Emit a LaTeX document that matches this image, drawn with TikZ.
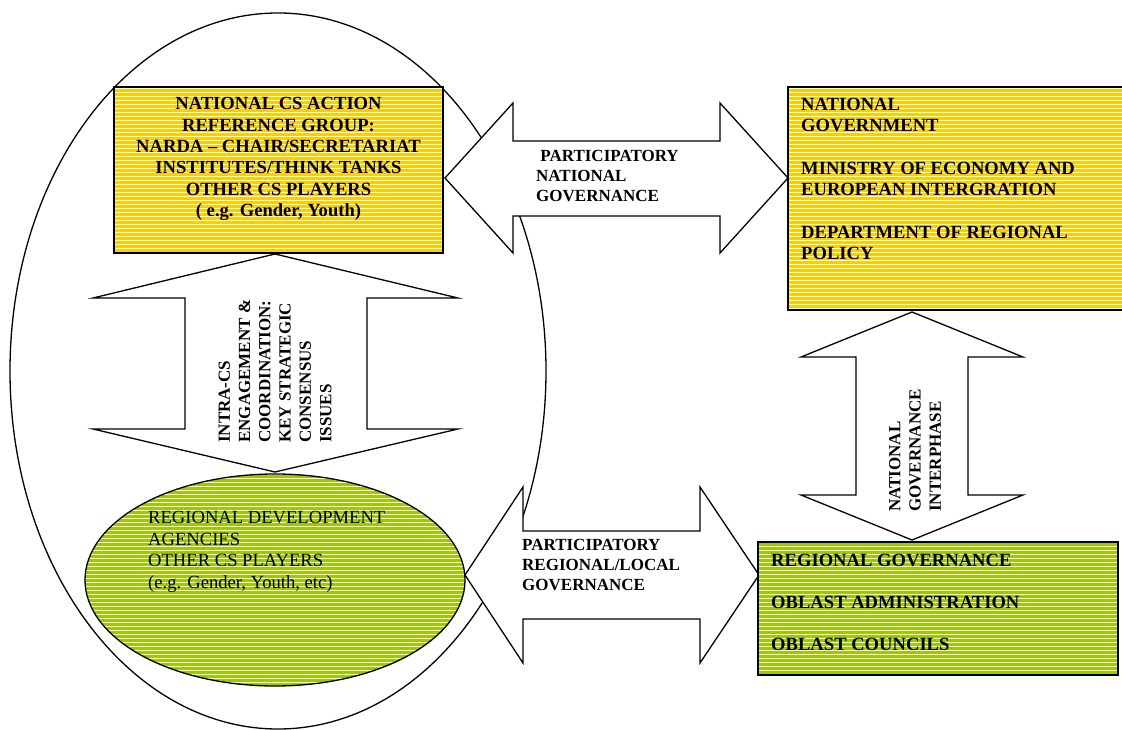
\documentclass[tikz,border=0pt]{standalone}
\usepackage{fontspec}
\setmainfont{Liberation Serif}
\usetikzlibrary{shapes.geometric}
\definecolor{yel}{HTML}{FFCC00}
\definecolor{grn}{HTML}{99CC00}
\begin{document}
\begin{tikzpicture}[x=1pt,y=-1pt,
  stripes/.style={path picture={\foreach \yy in {-402,-398,...,402}{\draw[white,line width=0.55pt] (-500,\yy) -- (500,\yy);}}},
  boxshape/.style={draw=black, line width=1.6pt, inner sep=0pt, outer sep=0pt, stripes},
  blockarrow/.style={draw=black, fill=white, line width=1.3pt, line join=miter},
  boldtxt/.style={font=\fontsize{18.6}{21.4}\selectfont\bfseries, inner sep=0pt, align=left},
  arrowtxt/.style={font=\fontsize{17}{20.3}\selectfont\bfseries, inner sep=0pt, align=left},
  plaintxt/.style={font=\fontsize{18.6}{21.6}\selectfont, inner sep=0pt, align=left}]
\useasboundingbox (0,0) rectangle (1122,730);

% big enclosing ellipse
\node[ellipse, draw=black, line width=1.3pt, minimum width=536pt, minimum height=716pt, inner sep=0pt] (big) at (278,371) {};

% block arrows
\draw[blockarrow] (445,178) -- (513,103) -- (513,141) -- (720,141) -- (720,103) -- (788,178)
  -- (720,253) -- (720,216) -- (513,216) -- (513,253) -- cycle;
\draw[blockarrow] (465,575) -- (523,487) -- (523,531) -- (700,531) -- (700,487) -- (759,575)
  -- (700,663) -- (700,619) -- (523,619) -- (523,663) -- cycle;
\draw[blockarrow] (275,254) -- (458,298) -- (367,298) -- (367,429) -- (458,429) -- (275,472)
  -- (93,429) -- (185,429) -- (185,298) -- (93,298) -- cycle;
\draw[blockarrow] (912,312) -- (1023,357) -- (968,357) -- (968,495) -- (1023,495) -- (912,540)
  -- (801,495) -- (856,495) -- (856,357) -- (801,357) -- cycle;

% boxes
\node[boxshape, fill=yel, rectangle, minimum width=329pt, minimum height=166pt] (tl) at (278.5,170) {};
\node[boxshape, fill=yel, rectangle, minimum width=337pt, minimum height=223pt] (tr) at (956.5,198.5) {};
\node[boxshape, fill=grn, rectangle, minimum width=360pt, minimum height=133pt] (br) at (938,608.5) {};
\node[boxshape, fill=grn, ellipse, line width=1.3pt, minimum width=380pt, minimum height=212pt] (re) at (275,580) {};

% texts
\node[boldtxt, align=center] (tltxt) at (tl.center |- 0,159) {NATIONAL CS ACTION\\REFERENCE GROUP:\\NARDA – CHAIR/SECRETARIAT\\INSTITUTES/THINK TANKS\\OTHER CS PLAYERS\\( e.g. Gender, Youth)};
\node[boldtxt, anchor=west] (trtxt) at (801,179) {NATIONAL\\GOVERNMENT\\[21.4pt]MINISTRY OF ECONOMY AND\\EUROPEAN INTERGRATION\\[21.4pt]DEPARTMENT OF REGIONAL\\POLICY};
\node[boldtxt, anchor=west] (brtxt) at (771,602.5) {REGIONAL GOVERNANCE\\[21pt]OBLAST ADMINISTRATION\\[21pt]OBLAST COUNCILS};
\node[plaintxt, anchor=west] (retxt) at (148,552) {REGIONAL DEVELOPMENT\\AGENCIES\\OTHER CS PLAYERS\\(e.g. Gender, Youth, etc)};

\node[arrowtxt, anchor=west] (pn) at (536,176) {\ PARTICIPATORY\\NATIONAL\\GOVERNANCE};
\node[arrowtxt, anchor=west] (pr) at (522,565) {PARTICIPATORY\\REGIONAL/LOCAL\\GOVERNANCE};
\node[arrowtxt, anchor=west, rotate=90] (ic) at (275,443) {INTRA-CS\\ENGAGEMENT \&\\COORDINATION:\\KEY STRATEGIC\\CONSENSUS\\ISSUES};
\node[arrowtxt, anchor=west, rotate=90] (ng) at (915,512) {NATIONAL\\GOVERNANCE\\INTERPHASE};
\end{tikzpicture}
\end{document}
